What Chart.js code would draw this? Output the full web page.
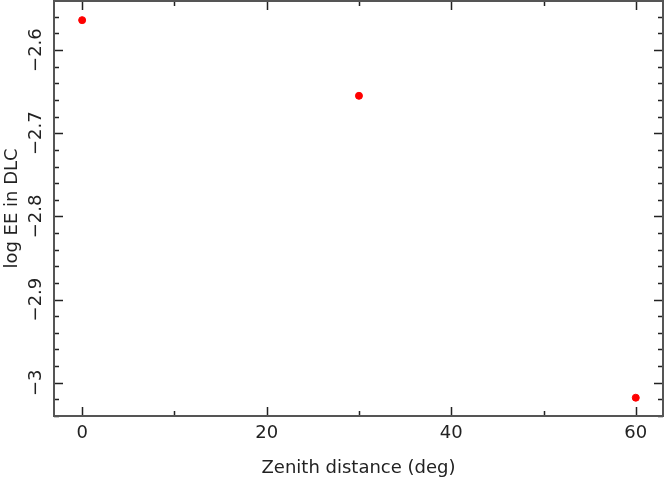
<!DOCTYPE html>
<html>
<head>
<meta charset="utf-8">
<script src="https://cdn.jsdelivr.net/npm/chart.js@4"></script>
<style>
  html, body { margin: 0; padding: 0; background: #fff; }
  #wrap { width: 665px; height: 481px; position: relative; }
</style>
</head>
<body>
<div id="wrap"><canvas id="eeChart"></canvas></div>
<script>
// data
const zenith = [0, 30, 60];
const logEE = [-2.564, -2.655, -3.018];

const xMajor = [0, 20, 40, 60];
const xMinor = [10, 30, 50];
const yMajor = [-2.6, -2.7, -2.8, -2.9, -3];
const yMinor = [-2.54, -2.56, -2.58, -2.62, -2.64, -2.66, -2.68, -2.72, -2.74, -2.76, -2.78,
                -2.82, -2.84, -2.86, -2.88, -2.92, -2.94, -2.96, -2.98, -3.02, -3.04];
const xTickLabels = ['0', '20', '40', '60'];
const yTickLabels = ['\u22122.6', '\u22122.7', '\u22122.8', '\u22122.9', '\u22123'];
const xTitle = 'Zenith distance (deg)';
const yTitle = 'log EE in DLC';

const FONT = '18px "DejaVu Sans", sans-serif';

// frame with inward ticks on all four sides + labels (pgplot look)
const framePlugin = {
  id: 'frame',
  afterDraw(chart) {
    const { ctx, chartArea: a, scales } = chart;
    const xs = scales.x, ys = scales.y;
    ctx.save();

    ctx.strokeStyle = '#222';
    ctx.lineWidth = 1.5;
    ctx.beginPath();
    const xt = (vals, len) => vals.forEach(v => {
      const px = Math.round(xs.getPixelForValue(v)) + 0.5;
      ctx.moveTo(px, a.bottom); ctx.lineTo(px, a.bottom - len);
      ctx.moveTo(px, a.top); ctx.lineTo(px, a.top + len);
    });
    const yt = (vals, len) => vals.forEach(v => {
      const py = Math.round(ys.getPixelForValue(v)) + 0.5;
      ctx.moveTo(a.left, py); ctx.lineTo(a.left + len, py);
      ctx.moveTo(a.right, py); ctx.lineTo(a.right - len, py);
    });
    xt(xMajor, 9); xt(xMinor, 5);
    yt(yMajor, 9); yt(yMinor, 5);
    ctx.stroke();

    ctx.strokeStyle = '#555';
    ctx.lineWidth = 2;
    ctx.strokeRect(a.left, a.top, a.right - a.left, a.bottom - a.top);

    ctx.fillStyle = '#222';
    ctx.font = FONT;
    ctx.textAlign = 'center';
    ctx.textBaseline = 'middle';
    xMajor.forEach((v, i) => ctx.fillText(xTickLabels[i], xs.getPixelForValue(v), 433));
    ctx.fillText(xTitle, (a.left + a.right) / 2, 468);

    yMajor.forEach((v, i) => {
      ctx.save();
      ctx.translate(36, ys.getPixelForValue(v));
      ctx.rotate(-Math.PI / 2);
      ctx.fillText(yTickLabels[i], 0, 0);
      ctx.restore();
    });
    ctx.save();
    ctx.translate(12, (a.top + a.bottom) / 2);
    ctx.rotate(-Math.PI / 2);
    ctx.fillText(yTitle, 0, 0);
    ctx.restore();

    ctx.restore();
  }
};

const ctx = document.getElementById('eeChart').getContext('2d');
new Chart(ctx, {
  type: 'scatter',
  data: {
    datasets: [{
      data: zenith.map((z, i) => ({ x: z, y: logEE[i] })),
      backgroundColor: '#ff0000',
      borderColor: '#ff0000',
      pointRadius: 3.5,
      pointHoverRadius: 3.5
    }]
  },
  options: {
    responsive: true,
    maintainAspectRatio: false,
    animation: false,
    layout: { autoPadding: false, padding: { left: 54, top: 1, right: 2, bottom: 65 } },
    plugins: { legend: { display: false }, tooltip: { enabled: false } },
    scales: {
      x: { type: 'linear', min: -3.05, max: 62.95, display: false },
      y: { type: 'linear', min: -3.04, max: -2.541, display: false }
    }
  },
  plugins: [framePlugin]
});
</script>
</body>
</html>
